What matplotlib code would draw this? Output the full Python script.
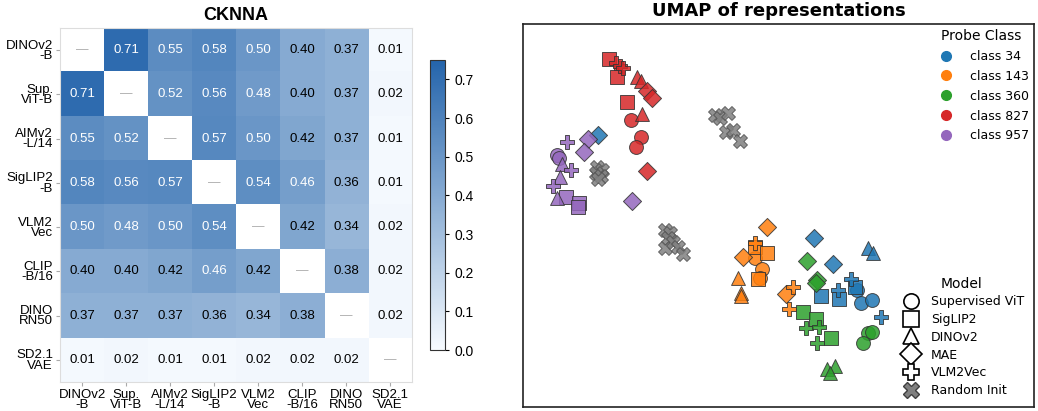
import numpy as np
import matplotlib.pyplot as plt
from matplotlib.colors import LinearSegmentedColormap
from matplotlib.lines import Line2D

# ---- CKNNA heatmap data ----
model_labels = ["DINOv2\n-B", "Sup.\nViT-B", "AIMv2\n-L/14", "SigLIP2\n-B",
                "VLM2\nVec", "CLIP\n-B/16", "DINO\nRN50", "SD2.1\nVAE"]
cknna = np.array([
    [np.nan, 0.71, 0.55, 0.58, 0.50, 0.40, 0.37, 0.01],
    [0.71, np.nan, 0.52, 0.56, 0.48, 0.40, 0.37, 0.02],
    [0.55, 0.52, np.nan, 0.57, 0.50, 0.42, 0.37, 0.01],
    [0.58, 0.56, 0.57, np.nan, 0.54, 0.46, 0.36, 0.01],
    [0.50, 0.48, 0.50, 0.54, np.nan, 0.42, 0.34, 0.02],
    [0.40, 0.40, 0.42, 0.46, 0.42, np.nan, 0.38, 0.02],
    [0.37, 0.37, 0.37, 0.36, 0.34, 0.38, np.nan, 0.02],
    [0.01, 0.02, 0.01, 0.01, 0.02, 0.02, 0.02, np.nan],
])

# ---- UMAP points, grouped by model then class ----
class_names = ["class 34", "class 143", "class 360", "class 827", "class 957"]
class_colors = ["#1f77b4", "#ff7f0e", "#2ca02c", "#d62728", "#9467bd"]
model_names = ["Supervised ViT", "SigLIP2", "DINOv2", "MAE", "VLM2Vec", "Random Init"]
model_markers = ["o", "s", "^", "D", "P", "X"]

# (x, y, class index); class -1 = random init (gray)
sup_vit = [(857, 290, 0), (861, 303, 0), (872, 300, 0),
           (755, 258, 1), (762, 269, 1), (760, 278, 1),
           (868, 333, 2), (872, 332, 2), (863, 343, 2),
           (631, 120, 3), (641, 137, 3), (636, 147, 3),
           (557, 155, 4), (559, 158, 4)]
siglip2 = [(855, 287, 0), (821, 296, 0), (839, 299, 0),
           (755, 247, 1), (767, 253, 1), (758, 279, 1),
           (803, 312, 2), (816, 319, 2), (831, 338, 2),
           (609, 59, 3), (617, 77, 3), (627, 102, 3),
           (566, 197, 4), (579, 203, 4), (578, 207, 4)]
dinov2 = [(868, 248, 0), (873, 253, 0),
          (738, 278, 1), (741, 293, 1), (741, 296, 1),
          (827, 369, 2), (835, 366, 2), (830, 373, 2),
          (637, 77, 3), (641, 81, 3), (642, 114, 3),
          (562, 164, 4), (560, 177, 4), (557, 198, 4)]
mae = [(814, 238, 0), (833, 264, 0), (598, 135, 0),
       (767, 227, 1), (743, 257, 1), (786, 294, 1),
       (807, 261, 2), (817, 280, 2), (816, 283, 2),
       (647, 91, 3), (652, 98, 3), (647, 171, 3),
       (588, 139, 4), (584, 152, 4), (632, 201, 4)]
vlm2vec = [(851, 279, 0), (838, 290, 0), (881, 317, 0),
           (755, 243, 1), (793, 287, 1), (789, 309, 1),
           (806, 328, 2), (819, 327, 2), (817, 343, 2),
           (616, 63, 3), (620, 66, 3), (623, 68, 3),
           (567, 142, 4), (571, 170, 4), (553, 186, 4)]
random_init = [(597, 167, -1), (602, 170, -1), (596, 173, -1), (601, 176, -1), (598, 179, -1),
               (715, 115, -1), (720, 118, -1), (728, 113, -1), (726, 132, -1), (733, 130, -1),
               (740, 141, -1),
               (665, 230, -1), (670, 233, -1), (668, 238, -1), (665, 248, -1), (673, 242, -1),
               (678, 247, -1), (683, 254, -1)]
model_points = [sup_vit, siglip2, dinov2, mae, vlm2vec, random_init]

fig = plt.figure(figsize=(10.38, 4.11), dpi=100)

# ---- left: heatmap ----
cmap = LinearSegmentedColormap.from_list("cknna_blues", ["#f7fbff", "#2464ab"])
cmap.set_bad("white")
ax1 = fig.add_axes([0.0578, 0.0706, 0.3393, 0.8614])
im = ax1.imshow(np.ma.masked_invalid(cknna), cmap=cmap, vmin=0, vmax=0.75, aspect="auto")
n = len(model_labels)
for i in range(n):
    for j in range(n):
        v = cknna[i, j]
        if np.isnan(v):
            ax1.text(j, i, "\u2014", ha="center", va="center", color="#aaaaaa",
                     fontsize=9, family="Liberation Sans")
        else:
            ax1.text(j, i, f"{v:.2f}", ha="center", va="center",
                     color="white" if v > 0.45 else "black",
                     fontsize=9.5, family="Liberation Sans")
ax1.set_xticks(range(n))
ax1.set_yticks(range(n))
ax1.set_xticklabels(model_labels, fontsize=9.5, family="Liberation Sans", linespacing=0.8)
ax1.set_yticklabels(model_labels, fontsize=9.5, family="Liberation Sans", linespacing=0.8)
ax1.tick_params(length=3, color="#aaaaaa", pad=2)
for s in ax1.spines.values():
    s.set_color("#dddddd")
ax1.set_title("CKNNA", fontsize=13, fontweight="bold", family="Liberation Sans", pad=6)

cax = fig.add_axes([0.4143, 0.148, 0.0145, 0.706])
cb = fig.colorbar(im, cax=cax)
cb.set_ticks(np.arange(0, 0.71, 0.1))
cb.ax.tick_params(labelsize=10, length=3)
for t in cb.ax.get_yticklabels():
    t.set_family("Liberation Sans")
cb.outline.set_edgecolor("#333333")

# ---- right: UMAP scatter ----
ax2 = fig.add_axes([0.5039, 0.0097, 0.4923, 0.9319])
for pts, mk in zip(model_points, model_markers):
    for x, y, c in pts:
        if c < 0:
            fc, ec = "#808080", "#505050"
        else:
            fc, ec = class_colors[c], "#333333"
        ax2.scatter(x, y, marker=mk, s=100 if mk != "D" else 85, facecolor=fc,
                    edgecolor=ec, linewidth=0.7, alpha=0.85)
ax2.set_xlim(523, 1034)
ax2.set_ylim(407, 24)
ax2.set_xticks([])
ax2.set_yticks([])
for s in ax2.spines.values():
    s.set_linewidth(1.2)
    s.set_color("#222222")
ax2.set_title("UMAP of representations", fontsize=13, fontweight="bold", pad=6)

class_handles = [Line2D([], [], marker="o", linestyle="", color=c, markersize=7)
                 for c in class_colors]
leg1 = ax2.legend(class_handles, class_names, title="Probe Class", loc="upper right",
                  frameon=False, fontsize=9, title_fontsize=10,
                  handletextpad=0.9, labelspacing=0.55, borderpad=0.3, borderaxespad=0.1)
ax2.add_artist(leg1)

model_handles = [Line2D([], [], marker=m, linestyle="", markerfacecolor="white",
                        markeredgecolor="black", markersize=11, markeredgewidth=1.2)
                 if m != "X" else
                 Line2D([], [], marker=m, linestyle="", markerfacecolor="#808080",
                        markeredgecolor="#404040", markersize=11)
                 for m in model_markers]
ax2.legend(model_handles, model_names, title="Model", loc="lower right",
           frameon=False, fontsize=9, title_fontsize=10,
           handletextpad=0.6, labelspacing=0.38, borderpad=0.3, borderaxespad=0.5)

plt.savefig("out.png", dpi=100)
